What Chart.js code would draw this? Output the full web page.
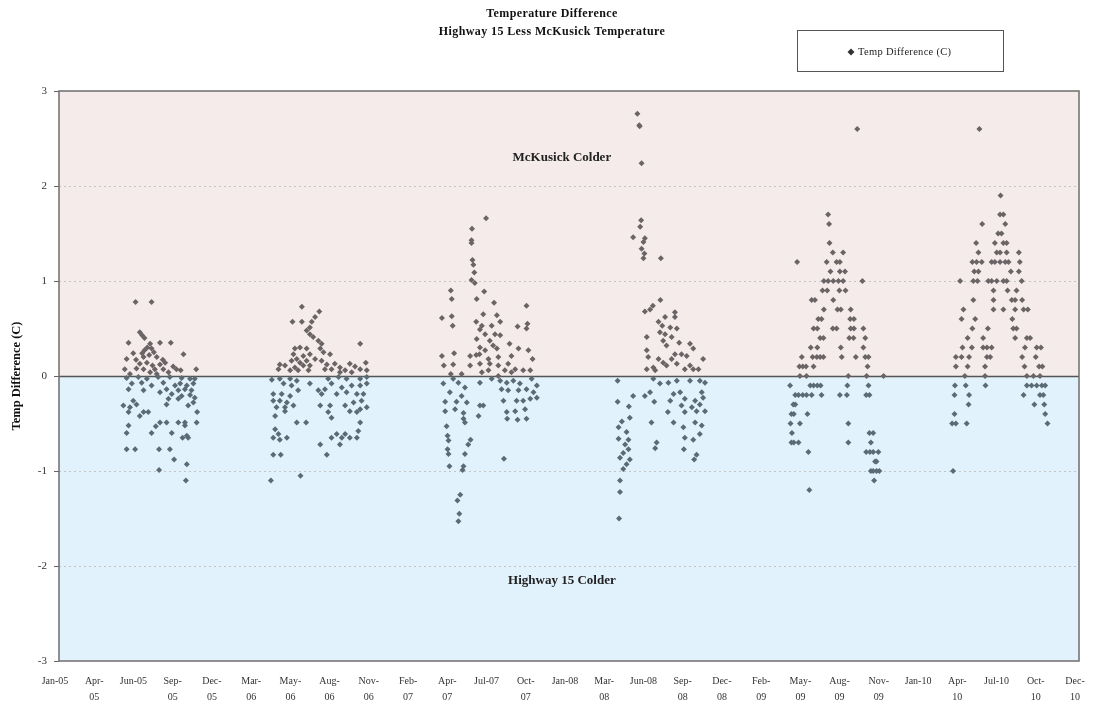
<!DOCTYPE html>
<html>
<head>
<meta charset="utf-8">
<title>Temperature Difference</title>
<script src="https://cdn.jsdelivr.net/npm/chart.js@4.4.1/dist/chart.umd.min.js"></script>
<style>
  html, body { margin: 0; padding: 0; background: #fff; }
  canvas { display: block; }
</style>
</head>
<body>
<canvas id="tempChart" width="1093" height="708"></canvas>
<script>
// x values are days counted from 1 Jan 2005
const xStart = 13;
const xStep = 83.5;
const tickLabels = ['Jan-05', 'Apr-\n05', 'Jun-05', 'Sep-\n05', 'Dec-\n05', 'Mar-\n06', 'May-\n06', 'Aug-\n06',
    'Nov-\n06', 'Feb-\n07', 'Apr-\n07', 'Jul-07', 'Oct-\n07', 'Jan-08', 'Mar-\n08', 'Jun-08', 'Sep-\n08',
    'Dec-\n08', 'Feb-\n09', 'May-\n09', 'Aug-\n09', 'Nov-\n09', 'Jan-10', 'Apr-\n10', 'Jul-10', 'Oct-\n10', 'Dec-\n10'];
const yTicks = [-3, -2, -1, 0, 1, 2, 3];

// [day, temp difference C]
const pts2005 = [[176,0.78],[210,0.78],[185,0.46],[190,0.43],[195,0.40],[161,0.35],[228,0.35],[251,0.35],[207,0.34],[201,0.30],
    [210,0.29],[195,0.27],[190,0.24],[215,0.25],[205,0.22],[171,0.24],[278,0.23],[157,0.18],[177,0.17],[193,0.20],
    [221,0.20],[234,0.17],[239,0.14],[228,0.12],[185,0.13],[200,0.14],[212,0.11],[178,0.08],[153,0.07],[193,0.07],
    [217,0.07],[235,0.07],[256,0.10],[263,0.07],[272,0.06],[305,0.07],[207,0.04],[246,0.04],[164,0.02],[221,0.02],
    [157,-0.02],[182,-0.01],[200,-0.03],[224,-0.01],[249,-0.01],[274,-0.02],[292,-0.03],[302,-0.03],[168,-0.08],[189,-0.07],
    [210,-0.10],[235,-0.07],[260,-0.10],[271,-0.08],[285,-0.10],[299,-0.08],[161,-0.14],[193,-0.15],[242,-0.14],[267,-0.15],
    [281,-0.14],[295,-0.15],[228,-0.17],[253,-0.19],[274,-0.21],[292,-0.20],[302,-0.23],[246,-0.24],[267,-0.24],[171,-0.26],
    [178,-0.30],[150,-0.31],[164,-0.33],[242,-0.30],[299,-0.28],[288,-0.31],[193,-0.38],[203,-0.38],[185,-0.42],[161,-0.38],
    [307,-0.38],[228,-0.49],[242,-0.49],[267,-0.49],[281,-0.49],[306,-0.49],[219,-0.53],[281,-0.52],[210,-0.60],[253,-0.60],
    [161,-0.52],[157,-0.60],[285,-0.63],[276,-0.65],[288,-0.65],[157,-0.77],[175,-0.77],[226,-0.77],[249,-0.77],[258,-0.88],
    [285,-0.93],[226,-0.99],[283,-1.10]];

const pts2006 = [[530,0.73],[567,0.68],[558,0.62],[510,0.57],[530,0.57],[551,0.57],[547,0.51],[540,0.48],[547,0.44],[554,0.41],
    [565,0.37],[572,0.34],[654,0.34],[515,0.29],[526,0.30],[540,0.29],[569,0.29],[576,0.25],[512,0.23],[533,0.21],
    [547,0.23],[590,0.23],[519,0.18],[558,0.18],[508,0.16],[526,0.14],[540,0.16],[572,0.16],[483,0.12],[494,0.11],
    [515,0.09],[533,0.11],[547,0.11],[583,0.12],[600,0.13],[632,0.13],[666,0.14],[480,0.07],[505,0.06],[522,0.06],
    [544,0.06],[579,0.07],[593,0.07],[611,0.09],[622,0.06],[643,0.10],[654,0.07],[668,0.06],[611,0.04],[636,0.04],
    [466,-0.04],[483,-0.03],[505,-0.03],[519,-0.05],[547,-0.08],[586,-0.03],[608,-0.01],[625,-0.03],[654,-0.03],[668,-0.01],
    [491,-0.08],[508,-0.10],[565,-0.15],[579,-0.14],[593,-0.08],[615,-0.12],[636,-0.10],[654,-0.10],[668,-0.08],[469,-0.19],
    [487,-0.19],[505,-0.21],[522,-0.15],[572,-0.19],[604,-0.19],[625,-0.17],[647,-0.19],[661,-0.19],[469,-0.26],[483,-0.26],
    [498,-0.28],[476,-0.33],[494,-0.33],[512,-0.31],[569,-0.31],[590,-0.31],[622,-0.31],[640,-0.28],[657,-0.26],[668,-0.33],
    [473,-0.42],[494,-0.37],[586,-0.38],[593,-0.44],[632,-0.37],[647,-0.38],[654,-0.35],[519,-0.49],[539,-0.49],[654,-0.49],
    [473,-0.56],[480,-0.61],[469,-0.65],[483,-0.67],[498,-0.65],[593,-0.65],[604,-0.61],[615,-0.65],[611,-0.72],[622,-0.61],
    [632,-0.65],[650,-0.58],[647,-0.65],[569,-0.72],[469,-0.83],[485,-0.83],[583,-0.83],[464,-1.10],[527,-1.05]];

const pts2007 = [[922,1.66],[892,1.55],[891,1.43],[891,1.40],[893,1.22],[895,1.17],[897,1.09],[891,1.01],[898,0.98],[847,0.90],
    [849,0.81],[918,0.89],[902,0.81],[939,0.77],[1008,0.74],[828,0.61],[849,0.63],[916,0.65],[945,0.64],[901,0.57],
    [851,0.53],[913,0.53],[909,0.49],[934,0.53],[952,0.57],[989,0.52],[1010,0.55],[1008,0.50],[920,0.44],[941,0.44],
    [952,0.43],[902,0.39],[930,0.37],[937,0.32],[972,0.34],[909,0.30],[920,0.27],[945,0.29],[991,0.29],[1012,0.27],
    [828,0.21],[854,0.24],[888,0.21],[901,0.22],[908,0.23],[927,0.18],[948,0.20],[976,0.21],[1021,0.18],[832,0.11],
    [852,0.12],[888,0.11],[909,0.13],[930,0.13],[948,0.11],[969,0.13],[984,0.07],[1001,0.06],[1016,0.06],[913,0.04],
    [927,0.06],[962,0.06],[976,0.04],[847,0.02],[870,0.02],[948,0.00],
    [831,-0.08],[852,-0.03],[863,-0.07],[877,-0.12],[909,-0.07],[934,-0.03],[952,-0.05],[966,-0.07],[980,-0.05],[994,-0.08],
    [1019,-0.03],[1030,-0.10],[845,-0.17],[870,-0.21],[955,-0.14],[969,-0.15],[991,-0.15],[1008,-0.14],[1023,-0.17],[1030,-0.23],
    [835,-0.27],[859,-0.27],[881,-0.28],[909,-0.31],[987,-0.26],[1001,-0.26],[1016,-0.24],[835,-0.37],[856,-0.35],[874,-0.39],
    [906,-0.42],[916,-0.31],[959,-0.26],[966,-0.38],[984,-0.37],[1005,-0.35],[874,-0.45],[877,-0.49],[967,-0.45],[989,-0.46],
    [1008,-0.45],[838,-0.53],[840,-0.63],[842,-0.68],[889,-0.67],[884,-0.72],[840,-0.77],[842,-0.82],[877,-0.82],[960,-0.87],
    [844,-0.95],[874,-0.95],[872,-0.99],[867,-1.25],[861,-1.31],[865,-1.45],[863,-1.53]];

const pts2008 = [[1244,2.76],[1248,2.64],[1249,2.63],[1253,2.24],[1252,1.64],[1250,1.57],[1235,1.46],[1260,1.45],[1257,1.41],[1253,1.34],
    [1259,1.29],[1257,1.24],[1294,1.24],[1293,0.80],[1277,0.74],[1260,0.68],[1271,0.70],[1303,0.62],[1324,0.67],[1324,0.62],
    [1289,0.57],[1297,0.53],[1314,0.51],[1328,0.50],[1292,0.46],[1303,0.44],[1317,0.41],[1264,0.41],[1299,0.37],[1333,0.35],
    [1356,0.34],[1306,0.32],[1363,0.29],[1264,0.27],[1324,0.23],[1338,0.23],[1349,0.21],[1267,0.20],[1289,0.18],[1317,0.18],
    [1384,0.18],[1299,0.14],[1328,0.13],[1264,0.07],[1278,0.09],[1306,0.11],[1356,0.11],[1363,0.07],[1374,0.07],[1282,0.06],
    [1345,0.07],
    [1202,-0.05],[1278,-0.03],[1292,-0.08],[1310,-0.07],[1328,-0.05],[1356,-0.05],[1377,-0.05],[1388,-0.07],[1271,-0.17],[1321,-0.19],
    [1335,-0.17],[1381,-0.17],[1235,-0.21],[1260,-0.21],[1280,-0.27],[1314,-0.26],[1345,-0.24],[1367,-0.26],[1384,-0.23],[1202,-0.27],
    [1226,-0.32],[1338,-0.31],[1360,-0.33],[1377,-0.30],[1309,-0.38],[1345,-0.38],[1370,-0.37],[1388,-0.37],[1228,-0.44],[1211,-0.48],
    [1274,-0.49],[1321,-0.49],[1367,-0.49],[1204,-0.54],[1342,-0.54],[1381,-0.52],[1221,-0.59],[1204,-0.66],[1225,-0.67],[1345,-0.65],
    [1363,-0.67],[1377,-0.61],[1285,-0.70],[1282,-0.76],[1218,-0.72],[1225,-0.77],[1214,-0.81],[1207,-0.86],[1228,-0.88],[1221,-0.93],
    [1214,-0.98],[1343,-0.77],[1370,-0.83],[1365,-0.88],[1207,-1.10],[1207,-1.22],[1205,-1.50]];

// 2009 and 2010 readings come in 0.1 C steps: [temp difference, [days]]
const rows2009 = [[2.6,[1712]],[1.7,[1650]],[1.6,[1652]],[1.4,[1653]],[1.3,[1660,1682]],[1.2,[1584,1647,1668,1675]],
    [1.1,[1655,1675,1686]],[1.0,[1641,1650,1661,1672,1682,1723]],[0.9,[1638,1648,1674,1687]],[0.8,[1615,1622,1661]],
    [0.7,[1641,1670,1677,1698]],[0.6,[1629,1636,1697,1705]],[0.5,[1619,1627,1660,1668,1698,1705,1725]],
    [0.4,[1633,1640,1695,1704,1729]],[0.3,[1613,1627,1677,1725]],[0.2,[1594,1617,1626,1633,1640,1679,1709,1729,1736]],
    [0.1,[1589,1596,1603,1619,1734]],[0.0,[1590,1604,1693,1732,1768]],[-0.1,[1569,1612,1619,1627,1634,1691,1736]],
    [-0.2,[1580,1587,1596,1604,1615,1636,1675,1690,1731,1738]],[-0.3,[1576,1580]],[-0.4,[1572,1577,1606]],
    [-0.5,[1570,1590,1693]],[-0.6,[1573,1738,1746]],[-0.7,[1572,1577,1587,1693,1741]],[-0.8,[1608,1731,1739,1746,1757]],
    [-0.9,[1750,1753]],[-1.0,[1741,1746,1753,1759]],[-1.1,[1748]],[-1.2,[1610]]];

const rows2010 = [[2.6,[1972]],[1.9,[2017]],[1.7,[2016,2023]],[1.6,[1978,2027]],[1.5,[2012,2019]],[1.4,[1965,2005,2023,2030]],
    [1.3,[1970,2009,2016,2030,2056]],[1.2,[1957,1966,1977,1998,2005,2016,2027,2034,2058]],[1.1,[1961,1970,2039,2056]],
    [1.0,[1931,1959,1968,1991,1998,2009,2023,2030,2062]],[0.9,[2002,2032,2051]],[0.8,[1959,2002,2041,2048,2063]],
    [0.7,[1938,2002,2023,2048,2066,2075]],[0.6,[1934,1963,2042]],[0.5,[1957,1990,2044,2051]],[0.4,[1947,1980,2048,2073,2080]],
    [0.3,[1936,1956,1980,1988,1998,2069,2094,2103]],[0.2,[1922,1934,1950,1988,1995,2063,2092]],
    [0.1,[1922,1947,1984,2068,2099,2106]],[0.0,[1941,1984,2073,2087,2101]],
    [-0.1,[1920,1943,1985,2073,2083,2094,2105,2112]],[-0.2,[1919,1950,2066,2101,2108]],[-0.3,[1949,2089,2110]],
    [-0.4,[1919,2112]],[-0.5,[1914,1922,1945,2117]],[-1.0,[1916]]];

const serif = "'Liberation Serif', 'Times New Roman', serif";

function fromRows(rows) {
    const out = [];
    rows.forEach(r => r[1].forEach(d => out.push([d, r[0]])));
    return out;
}

const points = [].concat(pts2005, pts2006, pts2007, pts2008, fromRows(rows2009), fromRows(rows2010))
    .map(p => ({x: p[0], y: p[1]}));

const backdrop = {
    id: 'backdrop',
    beforeDraw(chart) {
        const {ctx, chartArea: a, scales: {y}} = chart;
        const zero = y.getPixelForValue(0);
        ctx.save();
        ctx.fillStyle = '#f5ebeb';
        ctx.fillRect(a.left, a.top, a.width, zero - a.top);
        ctx.fillStyle = '#e2f2fc';
        ctx.fillRect(a.left, zero, a.width, a.bottom - zero);
        ctx.restore();
    },
    beforeDatasetsDraw(chart) {
        const {ctx, chartArea: a, scales: {y}} = chart;
        const zero = Math.round(y.getPixelForValue(0)) + 0.5;
        ctx.save();
        ctx.strokeStyle = '#555';
        ctx.lineWidth = 1.5;
        ctx.beginPath();
        ctx.moveTo(a.left, zero);
        ctx.lineTo(a.right, zero);
        ctx.stroke();
        ctx.strokeStyle = '#6e6e6e';
        ctx.lineWidth = 1.5;
        ctx.strokeRect(a.left, a.top, a.width, a.height);

        ctx.fillStyle = '#222';
        ctx.font = 'bold 13px ' + serif;
        ctx.textAlign = 'center';
        ctx.textBaseline = 'middle';
        const cx = a.left + a.width * 0.493;
        ctx.fillText('McKusick Colder', cx, y.getPixelForValue(2.3));
        ctx.fillText('Highway 15 Colder', cx, y.getPixelForValue(-2.15));
        ctx.restore();
    },
    afterDraw(chart) {
        const ctx = chart.ctx;
        ctx.save();
        // title
        ctx.fillStyle = '#111';
        ctx.font = 'bold 12px ' + serif;
        ctx.letterSpacing = '0.4px';
        ctx.textAlign = 'center';
        ctx.textBaseline = 'middle';
        ctx.fillText('Temperature Difference', 552, 14);
        ctx.fillText('Highway 15 Less McKusick Temperature', 552, 32);

        // legend box
        ctx.letterSpacing = '0.3px';
        ctx.strokeStyle = '#555';
        ctx.lineWidth = 1;
        ctx.strokeRect(797.5, 30.5, 206, 41);
        ctx.fillStyle = '#333';
        ctx.beginPath();
        ctx.moveTo(851, 48.5);
        ctx.lineTo(854.5, 52);
        ctx.lineTo(851, 55.5);
        ctx.lineTo(847.5, 52);
        ctx.closePath();
        ctx.fill();
        ctx.fillStyle = '#222';
        ctx.font = '10.5px ' + serif;
        ctx.textAlign = 'left';
        ctx.fillText('Temp Difference (C)', 858, 52);
        ctx.restore();
    }
};

new Chart(document.getElementById('tempChart'), {
    type: 'scatter',
    data: {
        datasets: [{
            label: 'Temp Difference (C)',
            data: points,
            pointStyle: 'rectRot',
            pointRadius: 3,
            pointBorderWidth: 0,
            pointBackgroundColor: ctx => (ctx.raw && ctx.raw.y >= 0) ? '#6b6466' : '#5b6b75',
            pointBorderColor: 'transparent'
        }]
    },
    options: {
        responsive: false,
        animation: false,
        events: [],
        layout: {padding: {top: 91, right: 14, bottom: 0, left: 0}},
        plugins: {
            legend: {display: false},
            title: {display: false},
            tooltip: {enabled: false}
        },
        scales: {
            x: {
                type: 'linear',
                min: xStart,
                max: xStart + xStep * (tickLabels.length - 1),
                afterBuildTicks: s => {
                    s.ticks = tickLabels.map((t, i) => ({value: xStart + xStep * i}));
                },
                afterFit: s => { s.height = 47; },
                grid: {display: false},
                border: {display: false},
                ticks: {
                    autoSkip: false,
                    maxRotation: 0,
                    padding: 4,
                    labelOffset: -4,
                    color: '#333',
                    font: {family: serif, size: 10, lineHeight: 1.6},
                    callback: (v, i) => tickLabels[i].split('\n')
                }
            },
            y: {
                min: -3,
                max: 3,
                afterBuildTicks: s => {
                    s.ticks = yTicks.map(v => ({value: v}));
                },
                afterFit: s => { s.width = 59; },
                grid: {
                    color: c => (c.tick && (Math.abs(c.tick.value) === 1 || Math.abs(c.tick.value) === 2)) ? '#c4c4c4' : 'transparent',
                    tickColor: '#666',
                    tickLength: 5,
                    lineWidth: 1
                },
                border: {display: false, dash: [2, 3]},
                ticks: {
                    padding: 7,
                    color: '#333',
                    font: {family: serif, size: 11}
                },
                title: {
                    display: true,
                    text: 'Temp Difference (C)',
                    color: '#111',
                    font: {family: serif, size: 12.5, weight: 'bold'},
                    padding: {top: 9, bottom: 0}
                }
            }
        }
    },
    plugins: [backdrop]
});
</script>
</body>
</html>
